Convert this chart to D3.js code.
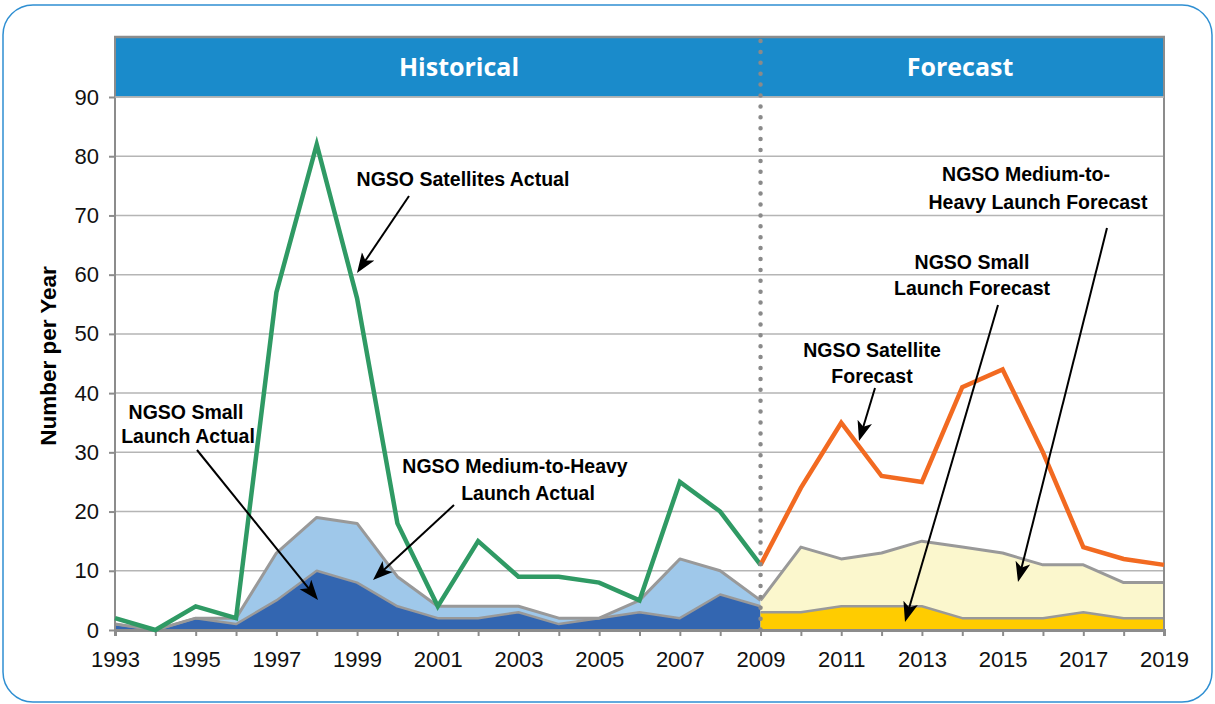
<!DOCTYPE html>
<html>
<head>
<meta charset="utf-8">
<script src="https://cdn.jsdelivr.net/npm/d3@7"></script>
<style>
  html, body { margin: 0; padding: 0; background: #fff; }
  svg { display: block; }
</style>
</head>
<body>
<svg id="chart" width="1215" height="704"></svg>
<script>
// ---------------- DATA ----------------
const actualYears   = [1993,1994,1995,1996,1997,1998,1999,2000,2001,2002,2003,2004,2005,2006,2007,2008,2009];
const satActual     = [2,0,4,2,57,82,56,18,4,15,9,9,8,5,25,20,11];
const smallActual   = [1,0,2,1,5,10,8,4,2,2,3,1,2,3,2,6,4];
const mediumActual  = [0,0,0,1,8,9,10,5,2,2,1,1,0,2,10,4,1];

const forecastYears  = [2009,2010,2011,2012,2013,2014,2015,2016,2017,2018,2019];
const satForecast    = [11,24,35,26,25,41,44,30,14,12,11];
const smallForecast  = [3,3,4,4,4,2,2,2,3,2,2];
const mediumForecast = [2,11,8,9,11,12,11,9,8,6,6];

const yTicks = [0,10,20,30,40,50,60,70,80,90];
const xTickLabels = [1993,1995,1997,1999,2001,2003,2005,2007,2009,2011,2013,2015,2017,2019];
const periodLabels = ["Historical", "Forecast"];
const yAxisTitle = "Number per Year";

// ---------------- LAYOUT ----------------
const svg = d3.select("#chart");
const L = 115, R = 1164, T = 97, B = 630, bandTop = 37;
const x = d3.scaleLinear().domain([1993, 2019]).range([L, R]);
const y = d3.scaleLinear().domain([0, 90]).range([B, T]);
const splitYear = 2009;

// outer rounded frame
svg.append("rect")
  .attr("x", 3).attr("y", 5).attr("width", 1209).attr("height", 697)
  .attr("rx", 30).attr("ry", 30)
  .attr("fill", "#fff").attr("stroke", "#2f8fd2").attr("stroke-width", 1.5);

// header band
svg.append("rect")
  .attr("x", L).attr("y", bandTop).attr("width", R - L).attr("height", T - bandTop)
  .attr("fill", "#1a8bcb");

// gridlines
svg.append("g").selectAll("line")
  .data(yTicks.filter(d => d > 0))
  .join("line")
  .attr("x1", L).attr("x2", R)
  .attr("y1", d => y(d)).attr("y2", d => y(d))
  .attr("stroke", "#b5b5b5").attr("stroke-width", 1.5);

// ---------------- AREAS ----------------
const actual = actualYears.map((yr, i) => ({yr, s: smallActual[i], m: mediumActual[i], sat: satActual[i]}));
const fc = forecastYears.map((yr, i) => ({yr, s: smallForecast[i], m: mediumForecast[i], sat: satForecast[i]}));

const areaSmall = d3.area().x(d => x(d.yr)).y0(y(0)).y1(d => y(d.s));
const areaMed = d3.area().x(d => x(d.yr)).y0(d => y(d.s)).y1(d => y(d.s + d.m));
const lineSmall = d3.line().x(d => x(d.yr)).y(d => y(d.s));
const lineTotal = d3.line().x(d => x(d.yr)).y(d => y(d.s + d.m));
const lineSat = d3.line().x(d => x(d.yr)).y(d => y(d.sat));

svg.append("path").datum(actual).attr("d", areaMed).attr("fill", "#9fc8ea");
svg.append("path").datum(actual).attr("d", areaSmall).attr("fill", "#3366b1");
svg.append("path").datum(fc).attr("d", areaMed).attr("fill", "#fbf7cd");
svg.append("path").datum(fc).attr("d", areaSmall).attr("fill", "#ffcc00");

[actual, fc].forEach(data => {
  svg.append("path").datum(data).attr("d", lineSmall)
    .attr("fill", "none").attr("stroke", "#999").attr("stroke-width", 2.5).attr("stroke-linejoin", "round");
  svg.append("path").datum(data).attr("d", lineTotal)
    .attr("fill", "none").attr("stroke", "#999").attr("stroke-width", 3).attr("stroke-linejoin", "round");
});

// ---------------- AXES ----------------
svg.append("line").attr("x1", L).attr("x2", L).attr("y1", bandTop).attr("y2", B)
  .attr("stroke", "#8c8c8c").attr("stroke-width", 2);
svg.append("line").attr("x1", R).attr("x2", R).attr("y1", bandTop).attr("y2", B)
  .attr("stroke", "#8c8c8c").attr("stroke-width", 2);
svg.append("line").attr("x1", L - 1).attr("x2", R + 1).attr("y1", bandTop).attr("y2", bandTop)
  .attr("stroke", "#8c8c8c").attr("stroke-width", 2.5);
svg.append("line").attr("x1", L).attr("x2", R).attr("y1", T).attr("y2", T)
  .attr("stroke", "#b5b5b5").attr("stroke-width", 1.5);

const yAxis = svg.append("g")
  .attr("transform", `translate(${L},0)`)
  .call(d3.axisLeft(y).tickValues(yTicks).tickSize(6).tickPadding(10).tickFormat(d3.format("d")));
yAxis.select(".domain").remove();
yAxis.selectAll(".tick line").attr("stroke", "#8c8c8c").attr("stroke-width", 2);
yAxis.selectAll(".tick text")
  .attr("font-family", "Liberation Sans, Arial, sans-serif").attr("font-size", 22).attr("fill", "#111");

const allYears = d3.range(1993, 2020);
const xAxis = svg.append("g")
  .attr("transform", `translate(0,${B})`)
  .call(d3.axisBottom(x).tickValues(allYears).tickSize(6).tickPadding(15)
    .tickFormat(d => xTickLabels.includes(d) ? String(d) : ""));
xAxis.select(".domain").attr("stroke", "#8c8c8c").attr("stroke-width", 3);
xAxis.selectAll(".tick line").attr("stroke", "#8c8c8c").attr("stroke-width", 2);
xAxis.selectAll(".tick text")
  .attr("font-family", "Liberation Sans, Arial, sans-serif").attr("font-size", 22).attr("fill", "#111");

// y-axis title
svg.append("text")
  .attr("transform", `translate(56,356) rotate(-90)`)
  .attr("text-anchor", "middle")
  .attr("font-family", "Liberation Sans, Arial, sans-serif").attr("font-weight", "bold")
  .attr("font-size", 22.5).attr("fill", "#000")
  .text(yAxisTitle);

// ---------------- LINES ----------------
svg.append("path").datum(actual).attr("d", lineSat)
  .attr("fill", "none").attr("stroke", "#2f9a64").attr("stroke-width", 4.5).attr("stroke-linejoin", "miter");
svg.append("path").datum(fc).attr("d", lineSat)
  .attr("fill", "none").attr("stroke", "#f26a21").attr("stroke-width", 4.5).attr("stroke-linejoin", "miter");

// dotted divider
svg.append("line")
  .attr("x1", x(splitYear)).attr("x2", x(splitYear))
  .attr("y1", bandTop + 4).attr("y2", B)
  .attr("stroke", "#8a8a8a").attr("stroke-width", 4.5)
  .attr("stroke-linecap", "round").attr("stroke-dasharray", "0,10.9");

// header labels
const bandMid = (bandTop + T) / 2;
svg.append("text").attr("x", 459).attr("y", bandMid).attr("dy", "0.36em")
  .attr("text-anchor", "middle").attr("font-family", "Open Sans, sans-serif")
  .attr("font-weight", "bold").attr("font-size", 25).attr("fill", "#fff")
  .text(periodLabels[0]);
svg.append("text").attr("x", 960).attr("y", bandMid).attr("dy", "0.36em")
  .attr("text-anchor", "middle").attr("font-family", "Open Sans, sans-serif")
  .attr("font-weight", "bold").attr("font-size", 25).attr("fill", "#fff")
  .text(periodLabels[1]);

// ---------------- ANNOTATIONS ----------------
const defs = svg.append("defs");
defs.append("marker")
  .attr("id", "arrow").attr("viewBox", "0 -10 20 20")
  .attr("refX", 20).attr("refY", 0)
  .attr("markerWidth", 20).attr("markerHeight", 20)
  .attr("markerUnits", "userSpaceOnUse").attr("orient", "auto")
  .append("path").attr("d", "M0,-7.5 L20,0 L0,7.5 L5,0 Z").attr("fill", "#000");

const annotations = [
  {lines: [["NGSO Satellites Actual", 463, 186]], from: [409, 196], to: [357, 273]},
  {lines: [["NGSO Small", 186, 419], ["Launch Actual", 188, 443]], from: [197, 450], to: [318, 600]},
  {lines: [["NGSO Medium-to-Heavy", 515, 473], ["Launch Actual", 528, 500]], from: [454, 505], to: [373, 580]},
  {lines: [["NGSO Satellite", 872, 357], ["Forecast", 872, 383]], from: [875, 388], to: [859, 441]},
  {lines: [["NGSO Small", 972, 269], ["Launch Forecast", 972, 295]], from: [998, 305], to: [905, 622]},
  {lines: [["NGSO Medium-to-", 1026, 181], ["Heavy Launch Forecast", 1038, 209]], from: [1107, 228], to: [1018, 582]}
];

annotations.forEach(a => {
  const [x1, y1] = a.from, [x2, y2] = a.to;
  const len = Math.hypot(x2 - x1, y2 - y1);
  const ux = (x2 - x1) / len, uy = (y2 - y1) / len;
  svg.append("line")
    .attr("x1", x1).attr("y1", y1)
    .attr("x2", x2 - ux * 12).attr("y2", y2 - uy * 12)
    .attr("stroke", "#000").attr("stroke-width", 2);
  svg.append("line")
    .attr("x1", x2 - ux * 14).attr("y1", y2 - uy * 14)
    .attr("x2", x2).attr("y2", y2)
    .attr("stroke", "none").attr("marker-end", "url(#arrow)");
  a.lines.forEach(([t, tx, ty]) => {
    svg.append("text").attr("x", tx).attr("y", ty)
      .attr("text-anchor", "middle")
      .attr("font-family", "Liberation Sans, Arial, sans-serif")
      .attr("font-weight", "bold").attr("font-size", 19.5).attr("fill", "#000")
      .text(t);
  });
});
</script>
</body>
</html>
